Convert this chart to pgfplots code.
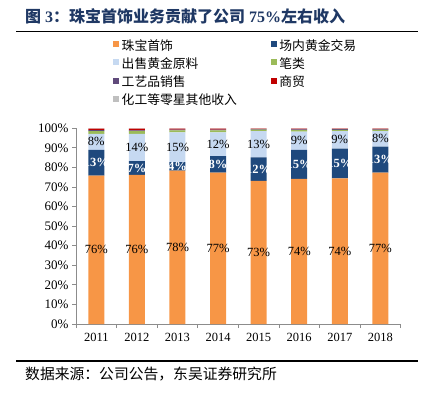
\documentclass[border=0pt]{standalone}
\usepackage{fontspec}
\setmainfont{Liberation Serif}
\newfontfamily\cjk{Noto Sans CJK SC}
\usepackage{pgfplots}
\usepackage{pgfplotstable}
\pgfplotsset{compat=1.18}

\definecolor{cOr}{HTML}{F79646}
\definecolor{cDb}{HTML}{1F497D}
\definecolor{cLb}{HTML}{C6D9F1}
\definecolor{cGr}{HTML}{9BBB59}
\definecolor{cPu}{HTML}{604A7B}
\definecolor{cRe}{HTML}{C00000}
\definecolor{cGy}{HTML}{BFBFBF}
\definecolor{cTitle}{HTML}{1F3864}
\definecolor{cAx}{HTML}{8C8C8C}

\pgfplotstableread{
x o b l g p r q
0 75.8 13.2 8.2 1.4 0.5 0.8 0.1
1 76.2 7.0 14.0 1.3 0.5 0.9 0.1
2 78.4 4.3 15.2 1.0 0.4 0.6 0.1
3 77.4 8.4 12.1 1.0 0.4 0.6 0.1
4 73.2 12.0 13.3 0.8 0.3 0.3 0.1
5 74.2 14.8 9.3 0.8 0.4 0.4 0.1
6 74.4 15.2 9.0 0.6 0.4 0.3 0.1
7 77.4 13.2 8.0 0.6 0.3 0.4 0.1
}\data

\pgfplotsset{
  myleg/.style={legend image code/.code={\fill[##1] (0pt,-1pt) rectangle (6pt,5pt);}},
  lab/.style={
    nodes near coords={\pgfmathprintnumber[fixed,precision=0]{\pgfplotspointmeta}\%},
    point meta=explicit,
    every node near coord/.append style={anchor=center, inner sep=0pt, font=\fontsize{12.5}{14}\selectfont},
  },
}

\begin{document}
\begin{tikzpicture}
\path (0pt,0pt) rectangle (422pt,-394pt);
\node[anchor=base west, text=cTitle, font=\bfseries\fontsize{16}{18}\selectfont, inner sep=0pt] at (25pt,-22pt)
  {{\cjk 图} 3{\cjk ：珠宝首饰业务贡献了公司} 75\%{\cjk 左右收入}};
\draw[line width=1.8pt] (16pt,-31.5pt) -- (418pt,-31.5pt);
\draw[line width=1.8pt] (16pt,-361pt) -- (418pt,-361pt);
\node[anchor=base west, font=\cjk\fontsize{14.8}{16}\selectfont, inner sep=0pt] at (25pt,-379pt)
  {数据来源：公司公告，东吴证券研究所};

\begin{axis}[
  at={(76pt,-324pt)}, anchor=south west,
  scale only axis, width=324.7pt, height=195.7pt,
  ybar stacked, bar width=16pt,
  xmin=-0.5, xmax=7.5, ymin=0, ymax=100,
  axis x line*=bottom, axis y line*=left,
  axis line style={draw=cAx, line width=0.8pt},
  tick align=outside, major tick length=4pt, minor tick length=4pt,
  xtick={0,...,7}, xticklabels={2011,2012,2013,2014,2015,2016,2017,2018},
  minor xtick={-0.5,0.5,...,7.5},
  major x tick style={draw=none},
  minor x tick style={draw=cAx, line width=0.8pt},
  ytick={0,10,...,100},
  y tick style={draw=cAx, line width=0.8pt},
  yticklabel={\pgfmathprintnumber{\tick}\%},
  /pgf/number format/assume math mode=true,
  x tick label style={font=\fontsize{12.5}{14}\selectfont, yshift=-2pt},
  y tick label style={font=\fontsize{13}{15}\selectfont},
  legend columns=2,
  legend cell align=left,
  legend style={at={(axis description cs:0.114,1.457)}, anchor=north west,
    draw=none, fill=none, inner sep=0pt,
    font=\cjk\fontsize{12.8}{14}\selectfont,
    nodes={inner sep=0pt, text height=11pt, text depth=3pt},
    row sep=4.3pt,
    /tikz/every odd column/.append style={column sep=2.5pt},
    /tikz/every even column/.append style={column sep=34pt}},
]
\addplot[fill=cOr, draw=none, myleg, lab] table[x=x, y=o, meta=o]{\data};
\addplot[fill=cDb, draw=none, myleg, lab, every node near coord/.append style={text=white, font=\bfseries\fontsize{12.5}{14}\selectfont}] table[x=x, y=b, meta=b]{\data};
\addplot[fill=cLb, draw=none, myleg, lab] table[x=x, y=l, meta=l]{\data};
\addplot[fill=cGr, draw=none, myleg] table[x=x, y=g]{\data};
\addplot[fill=cPu, draw=none, myleg] table[x=x, y=p]{\data};
\addplot[fill=cRe, draw=none, myleg] table[x=x, y=r]{\data};
\addplot[fill=cGy, draw=none, myleg] table[x=x, y=q]{\data};
\legend{珠宝首饰,场内黄金交易,出售黄金原料,笔类,工艺品销售,商贸,化工等零星其他收入}
\end{axis}
\end{tikzpicture}
\end{document}
